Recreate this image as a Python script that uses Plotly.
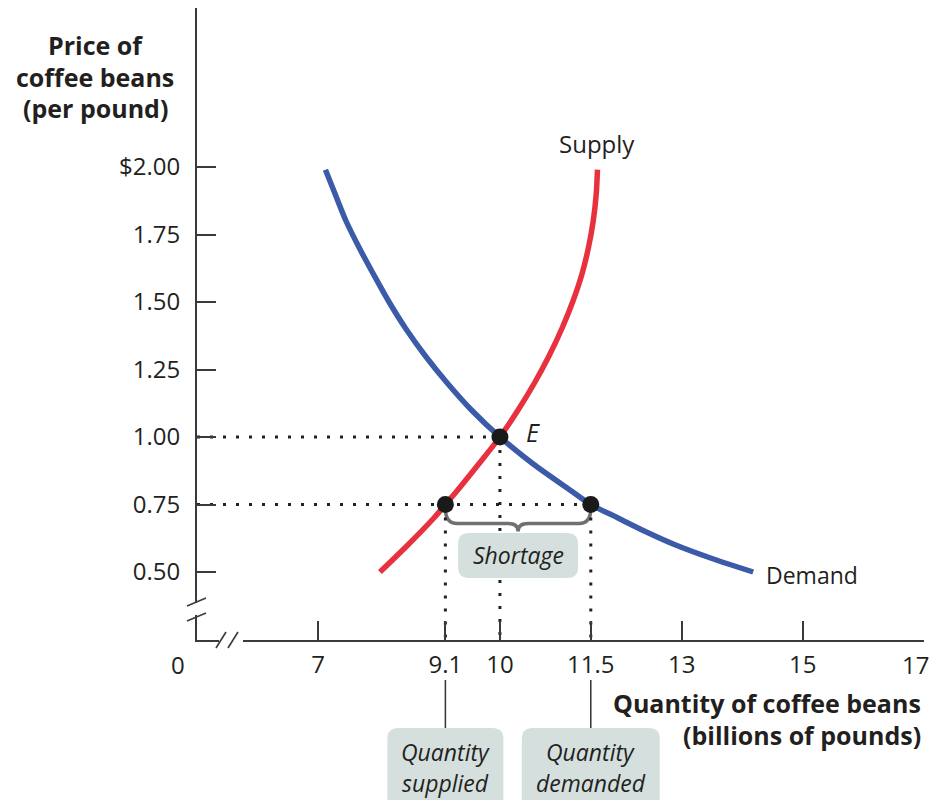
import plotly.graph_objects as go

# ---------------- data ----------------
price_ticks = [0.50, 0.75, 1.00, 1.25, 1.50, 1.75, 2.00]
price_labels = ["0.50", "0.75", "1.00", "1.25", "1.50", "1.75", "$2.00"]
qty_ticks = [7, 9.1, 10, 11.5, 13, 15, 17]
qty_labels = ["7", "9.1", "10", "11.5", "13", "15", "17"]

supply_p = [0.50, 0.60, 0.70, 0.75, 0.80, 0.90, 1.00, 1.10, 1.20,
            1.30, 1.40, 1.50, 1.60, 1.70, 1.80, 1.90, 1.99]
supply_q = [8.02, 8.48, 8.91, 9.10, 9.29, 9.65, 10.00, 10.30, 10.57,
            10.81, 11.02, 11.20, 11.35, 11.46, 11.54, 11.59, 11.61]
demand_p = [1.99, 1.90, 1.80, 1.70, 1.60, 1.50, 1.40, 1.30, 1.20, 1.10, 1.00, 0.90, 0.80,
            0.75, 0.70, 0.65, 0.60, 0.55, 0.50]
demand_q = [7.12, 7.28, 7.46, 7.68, 7.92, 8.17, 8.45, 8.77, 9.13, 9.53, 10.00, 10.55, 11.18,
            11.50, 11.95, 12.40, 12.90, 13.50, 14.18]

eq_q, eq_p = 10.0, 1.00
low_p = 0.75
q_supplied, q_demanded = 9.1, 11.5

# ---------------- layout geometry (reference pixel frame) ----------------
OFF = 8                      # page body margin
W, H = 939 - OFF, 801 - OFF
AX_L, AX_R, AX_T, AX_B = 197, 924, OFF, 640   # plot area in reference pixels
X_RANGE = [5, 17]
Y_RANGE = [0.5 - (AX_B - 572) / 270.0, 2.0 + (167 - AX_T) / 270.0]
ML = AX_L - OFF
MR = 939 - AX_R
MT = AX_T - OFF
MB = 801 - AX_B
PW, PH = AX_R - AX_L, AX_B - AX_T

def xpx(v):
    return AX_L + (v - X_RANGE[0]) / (X_RANGE[1] - X_RANGE[0]) * PW

def ypx(v):
    return AX_T + (Y_RANGE[1] - v) / (Y_RANGE[1] - Y_RANGE[0]) * PH

def px2paper(px, py):
    return (px - AX_L) / PW, (AX_B - py) / PH

TXT = "#231f20"
AX = "#3a3a3a"
RED = "#e8313f"
BLUE = "#3b5ba9"
BOX = "#d5e0de"
FONT = "Open Sans"

fig = go.Figure()

dot = dict(color="#222222", width=3, dash="3px,10px")
fig.add_trace(go.Scatter(x=[X_RANGE[0], eq_q], y=[eq_p, eq_p], mode="lines", line=dot, hoverinfo="skip"))
fig.add_trace(go.Scatter(x=[X_RANGE[0], q_demanded], y=[low_p, low_p], mode="lines", line=dot, hoverinfo="skip"))
for qv, pv in [(q_supplied, low_p), (eq_q, eq_p), (q_demanded, low_p)]:
    fig.add_trace(go.Scatter(x=[qv, qv], y=[pv, Y_RANGE[0]], mode="lines", line=dot, hoverinfo="skip"))

fig.add_trace(go.Scatter(x=supply_q, y=supply_p, mode="lines",
                         line=dict(color=RED, width=5.5, shape="spline", smoothing=0.8), hoverinfo="skip"))
fig.add_trace(go.Scatter(x=demand_q, y=demand_p, mode="lines",
                         line=dict(color=BLUE, width=5.5, shape="spline", smoothing=0.8), hoverinfo="skip"))

fig.add_trace(go.Scatter(x=[eq_q, q_supplied, q_demanded], y=[eq_p, low_p, low_p], mode="markers",
                         marker=dict(color="#1a1a1a", size=17), hoverinfo="skip"))

shapes = []

def P(px, py):
    a, b = px2paper(px, py)
    return f"{a:.5f},{b:.5f}"

def brace_path(x0, x1, yv):
    ax0, ax1 = xpx(x0), xpx(x1)
    y0 = ypx(yv) + 4
    yh = ypx(yv) + 19
    yt = ypx(yv) + 27
    xm = (ax0 + ax1) / 2
    return (f"M {P(ax0, y0)} Q {P(ax0, yh)} {P(ax0 + 12, yh)} L {P(xm - 10, yh)} "
            f"Q {P(xm, yh)} {P(xm, yt)} Q {P(xm, yh)} {P(xm + 10, yh)} "
            f"L {P(ax1 - 12, yh)} Q {P(ax1, yh)} {P(ax1, y0)}")

shapes.append(dict(type="path", xref="paper", yref="paper", path=brace_path(q_supplied, q_demanded, low_p),
                   line=dict(color="#707070", width=3.5), layer="below"))

def rrect(x0, y0, x1, y1, r=11):
    return (f"M {P(x0 + r, y0)} L {P(x1 - r, y0)} Q {P(x1, y0)} {P(x1, y0 + r)} "
            f"L {P(x1, y1 - r)} Q {P(x1, y1)} {P(x1 - r, y1)} L {P(x0 + r, y1)} "
            f"Q {P(x0, y1)} {P(x0, y1 - r)} L {P(x0, y0 + r)} Q {P(x0, y0)} {P(x0 + r, y0)} Z")

def rtop(x0, y0, x1, y1, r=11):
    return (f"M {P(x0 + r, y0)} L {P(x1 - r, y0)} Q {P(x1, y0)} {P(x1, y0 + r)} "
            f"L {P(x1, y1)} L {P(x0, y1)} L {P(x0, y0 + r)} Q {P(x0, y0)} {P(x0 + r, y0)} Z")

sx = (xpx(q_supplied) + xpx(q_demanded)) / 2
shapes.append(dict(type="path", xref="paper", yref="paper", path=rrect(sx - 60, 533, sx + 60, 578),
                   fillcolor=BOX, line=dict(width=0), layer="above"))
for qv, half in [(q_supplied, 58), (q_demanded, 69)]:
    cx = xpx(qv)
    shapes.append(dict(type="path", xref="paper", yref="paper", path=rtop(cx - half, 728, cx + half, 800),
                       fillcolor=BOX, line=dict(width=0), layer="above"))
    a, b0 = px2paper(cx, 680)
    _, b1 = px2paper(cx, 728)
    shapes.append(dict(type="line", xref="paper", yref="paper", x0=a, x1=a, y0=b0, y1=b1,
                       line=dict(color="#333333", width=1.5)))

def pline(px0, py0, px1, py1, **kw):
    a0, b0 = px2paper(px0, py0)
    a1, b1 = px2paper(px1, py1)
    return dict(type="line", xref="paper", yref="paper", x0=a0, y0=b0, x1=a1, y1=b1, **kw)

def prect(px0, py0, px1, py1):
    a0, b0 = px2paper(px0, py0)
    a1, b1 = px2paper(px1, py1)
    return dict(type="rect", xref="paper", yref="paper", x0=a0, y0=b0, x1=a1, y1=b1,
                fillcolor="white", line=dict(width=0), layer="above")

shapes.append(prect(192, 603, 202, 615))
shapes.append(pline(187, 606, 206, 598, line=dict(color=AX, width=1.6), layer="above"))
shapes.append(pline(187, 621, 206, 613, line=dict(color=AX, width=1.6), layer="above"))
shapes.append(prect(219, 636, 243, 645))
shapes.append(pline(216, 648, 226, 632, line=dict(color=AX, width=1.6), layer="above"))
shapes.append(pline(228, 648, 238, 632, line=dict(color=AX, width=1.6), layer="above"))

annotations = []
def ann(text, px, py, size=24, bold=False, italic=False, xanchor="center", align="center", yanchor="middle"):
    a, b = px2paper(px, py)
    t = text
    if bold:
        t = f"<b>{t}</b>"
    if italic:
        t = f"<i>{t}</i>"
    annotations.append(dict(text=t, x=a, y=b, xref="paper", yref="paper", showarrow=False,
                            xanchor=xanchor, yanchor=yanchor, align=align,
                            font=dict(family=FONT, size=size, color=TXT)))

for line_txt, yy in [("Price of", 45), ("coffee beans", 77), ("(per pound)", 108)]:
    ann(line_txt, 95, yy, size=25, bold=True)
for line_txt, yy in [("Quantity of coffee beans", 703), ("(billions of pounds)", 735)]:
    ann(line_txt, 923, yy, size=25, bold=True, xanchor="right")
ann("0", 178, 664, size=24)
# last x tick label drawn slightly inset, as in the reference
ann(qty_labels[-1], xpx(qty_ticks[-1]) + 7, 664, size=24, xanchor="right")
ann("Supply", xpx(11.6), ypx(2.0) - 24, size=24)
ann("Demand", xpx(14.18) + 11, ypx(0.5) + 3, size=23, xanchor="left")
ann("E", xpx(eq_q) + 24, ypx(eq_p) - 5, size=25, italic=True, xanchor="left")
ann("Shortage", sx, 555, size=23, italic=True)
for qv, w2 in [(q_supplied, "supplied"), (q_demanded, "demanded")]:
    ann("Quantity", xpx(qv), 752, size=23, italic=True)
    ann(w2, xpx(qv), 783, size=23, italic=True)

fig.update_layout(
    width=W, height=H, autosize=False,
    margin=dict(l=ML, r=MR, t=MT, b=MB, pad=0),
    paper_bgcolor="white", plot_bgcolor="white",
    showlegend=False,
    shapes=shapes, annotations=annotations,
    xaxis=dict(range=X_RANGE, showgrid=False, zeroline=False, showline=True, linecolor=AX, linewidth=2,
               ticks="inside", ticklen=19, tickwidth=1.6, tickcolor=AX,
               tickvals=qty_ticks, ticktext=qty_labels[:-1] + [""], ticklabelstandoff=2,
               tickfont=dict(family=FONT, size=24, color=TXT)),
    yaxis=dict(range=Y_RANGE, showgrid=False, zeroline=False, showline=True, linecolor=AX, linewidth=2,
               ticks="inside", ticklen=19, tickwidth=1.6, tickcolor=AX,
               tickvals=price_ticks, ticktext=price_labels, ticklabelstandoff=10,
               tickfont=dict(family=FONT, size=24, color=TXT)),
)

fig.write_html("out.html")
